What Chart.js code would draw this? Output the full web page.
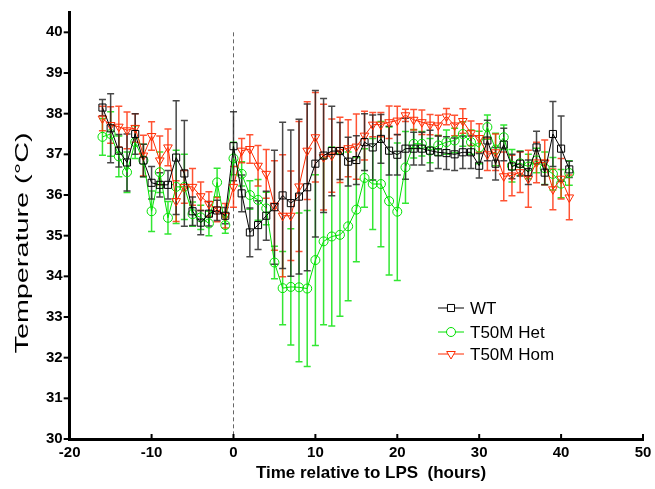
<!DOCTYPE html>
<html>
<head>
<meta charset="utf-8">
<script src="https://cdn.jsdelivr.net/npm/chart.js@4.4.1/dist/chart.umd.min.js"></script>
<style>
  html, body { margin: 0; padding: 0; background: #fff; }
</style>
</head>
<body>
<canvas id="tempChart" width="655" height="489"></canvas>
<script>
// hours relative to LPS (one point per hour)
const hours = [-16, -15, -14, -13, -12, -11, -10, -9, -8, -7, -6, -5, -4, -3, -2, -1, 0,
  1, 2, 3, 4, 5, 6, 7, 8, 9, 10, 11, 12, 13, 14, 15, 16, 17, 18, 19, 20,
  21, 22, 23, 24, 25, 26, 27, 28, 29, 30, 31, 32, 33, 34, 35, 36, 37, 38, 39, 40, 41];

// WT mean temperature and error
const wtMean = [38.15, 37.64, 37.09, 36.8, 37.5, 36.85, 36.3, 36.25, 36.25, 36.92, 36.53, 35.6, 35.32, 35.54, 35.62, 35.49, 37.2,
  36.04, 35.08, 35.26, 35.49, 35.7, 35.99, 35.8, 35.96, 36.19, 36.77, 36.97, 37.08, 37.08, 36.82, 36.86, 37.3, 37.17, 37.38, 37.09, 36.99,
  37.14, 37.14, 37.14, 37.09, 37.05, 37.03, 37.0, 37.05, 37.05, 36.72, 37.34, 36.77, 37.24, 36.7, 36.77, 36.56, 37.17, 36.55, 37.5, 37.14, 36.63];
const wtErr = [0.2, 0.85, 0.4, 0.7, 0.5, 0.4, 0.4, 0.3, 0.35, 1.4, 1.3, 0.35, 0.3, 0.3, 0.25, 0.2, 0.85,
  0.45, 0.6, 0.6, 0.6, 1.4, 1.8, 1.8, 1.9, 2.05, 1.8, 1.4, 1.1, 0.7, 0.6, 0.6, 0.7, 0.8, 0.6, 0.6, 0.5,
  0.75, 0.4, 0.4, 0.5, 0.4, 0.4, 0.4, 0.4, 0.4, 0.3, 0.5, 0.4, 0.4, 0.3, 0.3, 0.3, 0.4, 0.3, 0.8, 0.8, 0.2];

// T50M Het
const hetMean = [37.43, 37.5, 36.95, 36.56, 37.3, 36.85, 35.6, 36.56, 35.44, 36.2, 36.2, 35.53, 35.45, 35.3, 36.31, 35.26, 36.9,
  36.52, 36.0, 35.88, 35.67, 34.34, 33.71, 33.74, 33.73, 33.7, 34.4, 34.86, 34.98, 35.02, 35.23, 35.64, 36.42, 36.27, 36.27, 35.85, 35.59,
  36.68, 37.26, 37.26, 37.09, 37.22, 37.3, 37.34, 37.5, 37.3, 37.17, 37.67, 37.12, 37.42, 36.72, 36.78, 36.7, 36.85, 36.66, 36.52, 36.28, 36.54];
const hetErr = [0.45, 0.55, 0.5, 0.5, 0.4, 0.4, 0.5, 0.5, 0.4, 0.9, 0.8, 0.3, 0.3, 0.3, 0.35, 0.2, 0.4,
  0.3, 0.35, 0.5, 0.4, 0.4, 0.9, 1.43, 1.83, 1.92, 2.1, 2.05, 2.2, 2.0, 1.83, 1.28, 0.72, 1.12, 1.54, 1.82, 1.69,
  0.88, 0.35, 0.3, 0.3, 0.25, 0.3, 0.3, 0.3, 0.3, 0.4, 0.3, 0.4, 0.3, 0.4, 0.3, 0.3, 0.3, 0.4, 0.4, 0.35, 0.3];

// T50M Hom
const homMean = [37.88, 37.72, 37.68, 37.59, 37.65, 36.97, 37.45, 36.85, 37.17, 35.85, 36.2, 36.2, 35.97, 35.78, 35.64, 35.49, 36.2,
  37.09, 37.13, 36.72, 36.52, 35.74, 35.49, 35.49, 36.21, 37.09, 37.42, 36.93, 36.97, 37.11, 37.15, 37.19, 37.46, 37.73, 37.73, 37.79, 37.83,
  37.96, 37.85, 37.79, 37.73, 37.71, 37.93, 37.71, 37.82, 37.52, 37.4, 37.0, 37.05, 36.46, 36.48, 36.56, 36.4, 36.8, 36.8, 36.14, 36.4, 35.94];
const homErr = [0.3, 0.45, 0.5, 0.45, 0.35, 0.5, 0.35, 0.6, 0.45, 0.5, 0.4, 0.45, 0.35, 0.3, 0.3, 0.3, 0.5,
  0.3, 0.35, 0.5, 0.6, 1.1, 1.5, 1.1, 1.6, 1.2, 1.1, 1.3, 0.9, 0.8, 0.7, 0.8, 0.6, 0.3, 0.3, 0.4, 0.35,
  0.15, 0.25, 0.3, 0.25, 0.25, 0.2, 0.25, 0.3, 0.3, 0.35, 0.4, 0.45, 0.6, 0.5, 0.5, 0.7, 0.5, 0.55, 0.5, 0.5, 0.55];

const seriesNames = ['WT', 'T50M Het', 'T50M Hom'];

const FONT = "'Liberation Sans', Arial, sans-serif";

function toPoints(means) {
  return hours.map((h, i) => ({ x: h, y: means[i] }));
}

// error bars, the dashed LPS line, tick marks, titles and legend
const extrasPlugin = {
  id: 'extras',
  beforeDatasetsDraw(chart) {
    const ctx = chart.ctx;
    const xs = chart.scales.x, ys = chart.scales.y;
    const area = chart.chartArea;

    // dashed line at time 0
    ctx.save();
    ctx.strokeStyle = '#666';
    ctx.lineWidth = 1;
    ctx.setLineDash([4, 3]);
    const x0 = Math.round(xs.getPixelForValue(0)) + 0.5;
    ctx.beginPath();
    ctx.moveTo(x0, ys.getPixelForValue(40));
    ctx.lineTo(x0, area.bottom);
    ctx.stroke();
    ctx.restore();

    // error bars (draw bottom dataset first)
    const order = [1, 2, 0];
    order.forEach(di => {
      const ds = chart.data.datasets[di];
      ctx.save();
      ctx.strokeStyle = ds.errColor;
      ctx.lineWidth = 1.5;
      hours.forEach((h, i) => {
        const x = xs.getPixelForValue(h);
        const yt = ys.getPixelForValue(ds.means[i] + ds.errs[i]);
        const yb = ys.getPixelForValue(ds.means[i] - ds.errs[i]);
        ctx.beginPath();
        ctx.moveTo(x, yt); ctx.lineTo(x, yb);
        ctx.moveTo(x - 3.5, yt); ctx.lineTo(x + 3.5, yt);
        ctx.moveTo(x - 3.5, yb); ctx.lineTo(x + 3.5, yb);
        ctx.stroke();
      });
      ctx.restore();
    });
  },
  afterDraw(chart) {
    const ctx = chart.ctx;
    const xs = chart.scales.x, ys = chart.scales.y;
    const area = chart.chartArea;
    ctx.save();
    ctx.strokeStyle = '#000';
    ctx.lineWidth = 2;
    // y ticks, outward, minor ones shorter
    ys.ticks.forEach(t => {
      if (t.value > 40) return;
      const y = ys.getPixelForValue(t.value);
      const len = Number.isInteger(t.value) ? 6 : 3;
      ctx.beginPath();
      ctx.moveTo(area.left - len, y);
      ctx.lineTo(area.left, y);
      ctx.stroke();
    });
    // x ticks, inward
    xs.ticks.forEach(t => {
      const x = xs.getPixelForValue(t.value);
      ctx.beginPath();
      ctx.moveTo(x, area.bottom);
      ctx.lineTo(x, area.bottom - 5);
      ctx.stroke();
    });
    ctx.restore();

    // y axis title, stretched along its length like the original
    ctx.save();
    ctx.font = '19px ' + FONT;
    ctx.fillStyle = '#000';
    ctx.textAlign = 'center';
    ctx.textBaseline = 'middle';
    const txt = 'Temperature (°C)';
    const w = ctx.measureText(txt).width;
    ctx.translate(23, 243);
    ctx.rotate(-Math.PI / 2);
    ctx.scale(221 / w, 1);
    ctx.fillText(txt, 0, 0);
    ctx.restore();

    // x axis title (sits right of the plot centre in the original)
    ctx.save();
    ctx.font = 'bold 17px ' + FONT;
    ctx.fillStyle = '#000';
    ctx.textAlign = 'center';
    ctx.textBaseline = 'middle';
    ctx.fillText('Time relative to LPS  (hours)', 371, 473);
    ctx.restore();

    // legend
    ctx.save();
    ctx.font = '17px ' + FONT;
    ctx.textBaseline = 'middle';
    const rows = [308, 332, 354];
    chart.data.datasets.forEach((ds, i) => {
      const y = rows[i];
      ctx.strokeStyle = ds.borderColor;
      ctx.lineWidth = 1;
      ctx.beginPath();
      ctx.moveTo(438, y); ctx.lineTo(464, y);
      ctx.stroke();
      ctx.fillStyle = '#fff';
      Chart.helpers.drawPoint(ctx, {
        pointStyle: ds.pointStyle, radius: ds.pointRadius,
        rotation: ds.pointRotation || 0, borderWidth: 1
      }, 451, y);
      ctx.fillStyle = '#000';
      ctx.fillText(seriesNames[i], 470, y + 1);
    });
    ctx.restore();
  }
};

const ctx = document.getElementById('tempChart').getContext('2d');

new Chart(ctx, {
  type: 'line',
  data: {
    datasets: [
      {
        label: seriesNames[0], data: toPoints(wtMean), means: wtMean, errs: wtErr,
        borderColor: '#000', errColor: 'rgba(40,40,40,0.85)',
        pointBorderColor: '#000', pointBackgroundColor: 'rgba(0,0,0,0)',
        pointStyle: 'rect', pointRadius: 5, borderWidth: 1, order: 0
      },
      {
        label: seriesNames[1], data: toPoints(hetMean), means: hetMean, errs: hetErr,
        borderColor: '#00e000', errColor: 'rgba(0,225,0,0.8)',
        pointBorderColor: '#00e000', pointBackgroundColor: 'rgba(0,0,0,0)',
        pointStyle: 'circle', pointRadius: 4.5, borderWidth: 1, order: 2
      },
      {
        label: seriesNames[2], data: toPoints(homMean), means: homMean, errs: homErr,
        borderColor: '#ff2a00', errColor: 'rgba(255,40,0,0.8)',
        pointBorderColor: '#ff2a00', pointBackgroundColor: 'rgba(0,0,0,0)',
        pointStyle: 'triangle', pointRotation: 180, pointRadius: 5, borderWidth: 1, order: 1
      }
    ]
  },
  options: {
    responsive: false,
    animation: false,
    layout: { padding: { left: 43, right: 12, top: 0, bottom: 25 } },
    plugins: { legend: { display: false }, tooltip: { enabled: false } },
    scales: {
      x: {
        type: 'linear', min: -20, max: 50,
        ticks: { stepSize: 10, color: '#000', font: { family: FONT, size: 15, weight: 'bold' }, padding: 2 },
        grid: { display: false, tickLength: 3 },
        border: { display: true, color: '#000', width: 3 }
      },
      y: {
        min: 30, max: 40.5,
        ticks: { stepSize: 0.5, color: '#000', font: { family: FONT, size: 15, weight: 'bold' }, padding: 3,
          callback: v => Number.isInteger(v) ? v : '' },
        grid: { display: false, tickLength: 4 },
        border: { display: true, color: '#000', width: 3 }
      }
    }
  },
  plugins: [extrasPlugin]
});
</script>
</body>
</html>
